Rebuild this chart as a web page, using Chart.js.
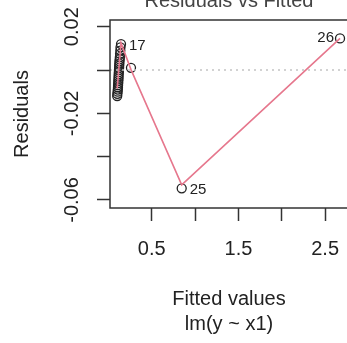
<!DOCTYPE html>
<html>
<head>
<meta charset="utf-8">
<title>Residuals vs Fitted</title>
<script src="https://cdn.jsdelivr.net/npm/chart.js@4"></script>
<style>
  html, body { margin: 0; padding: 0; background: #fff; overflow: hidden; }
</style>
</head>
<body>
<canvas id="resChart" width="362" height="343"></canvas>
<script>
// lm(y ~ x1): fitted values and residuals, observation 1..26
const fitted = [0.131, 0.125, 0.138, 0.119, 0.112, 0.127, 0.109, 0.140, 0.122, 0.115,
                0.104, 0.133, 0.117, 0.128, 0.102, 0.121, 0.146, 0.135, 0.114, 0.124,
                0.107, 0.118, 0.111, 0.261, 0.846, 2.672];
const residuals = [0.0050, 0.0020, 0.0090, -0.0020, -0.0070, 0.0030, -0.0090, 0.0105, 0.0000, -0.0050,
                   -0.0110, 0.0060, -0.0040, 0.0040, -0.0120, -0.0010, 0.0120, 0.0075, -0.0060, 0.0010,
                   -0.0100, -0.0030, -0.0080, 0.0010, -0.0546, 0.0146];
const obsIds = ['1','2','3','4','5','6','7','8','9','10','11','12','13','14','15','16','17','18','19','20',
                '21','22','23','24','25','26'];
const labelled = ['17', '25', '26'];

// lowess smooth of residuals on fitted
const smoothX = [0.102, 0.146, 0.261, 0.846, 2.672];
const smoothY = [-0.0085, 0.0125, 0.0002, -0.0530, 0.0146];

const xTicks = [0.5, 1.0, 1.5, 2.0, 2.5];
const xTickLabels = ['0.5', '', '1.5', '', '2.5'];
const yTicks = [0.02, 0.00, -0.02, -0.04, -0.06];
const yTickLabels = ['0.02', '', '-0.02', '', '-0.06'];

const xRange = [0.019, 2.764];
const yRange = [-0.0637, 0.0231];

const FONT = '"Liberation Sans", Arial, Helvetica, sans-serif';
const INK = '#222';

const points = fitted.map((f, i) => ({ x: f, y: residuals[i] }));
const smooth = smoothX.map((f, i) => ({ x: f, y: smoothY[i] }));
const zeroLine = [{ x: xRange[0], y: 0 }, { x: xRange[1], y: 0 }];

// box, rotated y labels, point ids and the main caption
const rPlotExtras = {
  id: 'rPlotExtras',
  afterDatasetsDraw(chart) {
    const { ctx, chartArea: a, scales } = chart;
    ctx.save();
    ctx.strokeStyle = '#333';
    ctx.lineWidth = 1.5;
    ctx.strokeRect(a.left, a.top, a.right - a.left, a.bottom - a.top);

    ctx.fillStyle = INK;
    ctx.font = '20px ' + FONT;
    ctx.textAlign = 'center';
    ctx.textBaseline = 'middle';
    yTicks.forEach((v, i) => {
      if (!yTickLabels[i]) return;
      const py = scales.y.getPixelForValue(v);
      ctx.save();
      ctx.translate(72, py);
      ctx.rotate(-Math.PI / 2);
      ctx.fillText(yTickLabels[i], 0, 0);
      ctx.restore();
    });

    // ids of the largest residuals
    const meta = chart.getDatasetMeta(0);
    const midX = (Math.min(...fitted) + Math.max(...fitted)) / 2;
    ctx.font = '15px ' + FONT;
    labelled.forEach(id => {
      const i = obsIds.indexOf(id);
      const el = meta.data[i];
      if (fitted[i] > midX) {
        ctx.textAlign = 'right';
        ctx.fillText(id, el.x - 6, el.y - 1);
      } else {
        ctx.textAlign = 'left';
        ctx.fillText(id, el.x + 8, el.y + 2);
      }
    });

    ctx.font = '20px ' + FONT;
    ctx.textAlign = 'center';
    ctx.textBaseline = 'alphabetic';
    ctx.fillStyle = '#444';
    ctx.fillText('Residuals vs Fitted', (a.left + a.right) / 2, 7);
    ctx.restore();
  }
};

new Chart(document.getElementById('resChart'), {
  type: 'scatter',
  data: {
    datasets: [
      {
        data: points,
        showLine: false,
        pointStyle: 'circle',
        pointRadius: 4.5,
        pointBorderWidth: 1.3,
        pointBorderColor: INK,
        pointBackgroundColor: 'rgba(0,0,0,0)',
        order: 3
      },
      {
        data: smooth,
        showLine: true,
        borderColor: '#E6778D',
        borderWidth: 1.6,
        pointRadius: 0,
        order: 2
      },
      {
        data: zeroLine,
        showLine: true,
        borderColor: '#c4c4c4',
        borderWidth: 1.5,
        borderDash: [2, 4],
        pointRadius: 0,
        order: 1
      }
    ]
  },
  options: {
    responsive: false,
    animation: false,
    events: [],
    layout: { padding: { top: 20, right: 14, left: 0, bottom: 0 } },
    plugins: { legend: { display: false }, tooltip: { enabled: false }, title: { display: false } },
    scales: {
      x: {
        type: 'linear',
        min: xRange[0],
        max: xRange[1],
        afterBuildTicks: s => { s.ticks = xTicks.map(v => ({ value: v })); },
        afterFit: s => { s.height = 135; },
        grid: { drawOnChartArea: false, drawTicks: true, tickLength: 13, tickColor: '#333', tickWidth: 1.5 },
        border: { display: false },
        ticks: {
          autoSkip: false,
          maxRotation: 0,
          padding: 16,
          color: INK,
          font: { family: FONT, size: 20 },
          callback: (v, i) => xTickLabels[i]
        },
        title: {
          display: true,
          text: ['Fitted values', 'lm(y ~ x1)'],
          color: INK,
          font: { family: FONT, size: 20, lineHeight: 1.25 },
          padding: { top: 0, bottom: 6 }
        }
      },
      y: {
        type: 'linear',
        min: yRange[0],
        max: yRange[1],
        afterBuildTicks: s => { s.ticks = yTicks.map(v => ({ value: v })); },
        afterFit: s => { s.width = 110; },
        grid: { drawOnChartArea: false, drawTicks: true, tickLength: 13, tickColor: '#333', tickWidth: 1.5 },
        border: { display: false },
        ticks: { display: false },
        title: {
          display: true,
          text: 'Residuals',
          color: INK,
          font: { family: FONT, size: 20, lineHeight: 1.2 },
          padding: { top: 10, bottom: 0 }
        }
      }
    }
  },
  plugins: [rPlotExtras]
});
</script>
</body>
</html>
